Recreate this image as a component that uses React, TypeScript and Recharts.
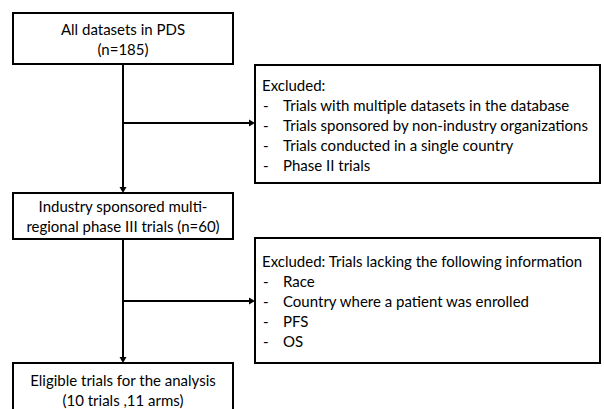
import React from 'react';
import { ComposedChart, XAxis, YAxis, ReferenceArea, ReferenceLine } from 'recharts';

const W = 604;
const H = 409;

// ---- text content ----
const box1Lines = ['All datasets in PDS', '(n=185)'];
const box2Title = 'Excluded:';
const box2Items = [
  'Trials with multiple datasets in the database',
  'Trials sponsored by non-industry organizations',
  'Trials conducted in a single country',
  'Phase II trials',
];
const box3Lines = ['Industry sponsored multi-', 'regional phase III trials (n=60)'];
const box4Title = 'Excluded: Trials lacking the following information';
const box4Items = ['Race', 'Country where a patient was enrolled', 'PFS', 'OS'];
const box5Lines = ['Eligible trials for the analysis', '(10 trials ,11 arms)'];

// ---- layout (diagram coordinates) ----
const MAIN_X = 123;
const BOX_L = { x1: 13, x2: 233 };
const BOX_R = { x1: 255, x2: 600 };
const B1 = { y1: 13, y2: 64, first: 16 };
const B2 = { y1: 65, y2: 183, first: 20 };
const B3 = { y1: 193, y2: 239, first: 13 };
const B4 = { y1: 238, y2: 363, first: 23 };
const B5 = { y1: 363, y2: 430, first: 17 };
const BRANCH1_Y = 123;
const BRANCH2_Y = 301;

const FONT = 'Lato, "Open Sans", sans-serif';
const FS = 15;
const LH = 20;
const INK = '#000';
const SW = 2;

function makeCenterBox(lines: string[], first: number) {
  return (p: any) => {
    const { x, y, width, height } = p;
    return (
      <g>
        <rect x={x} y={y} width={width} height={height} fill="#fff" stroke={INK} strokeWidth={SW} />
        {lines.map((t, i) => (
          <text
            key={i}
            x={x + width / 2}
            y={y + first + i * LH}
            textAnchor="middle"
            dominantBaseline="central"
            fontFamily={FONT}
            fontSize={FS}
            fill={INK}
          >
            {t}
          </text>
        ))}
      </g>
    );
  };
}

function makeListBox(title: string, items: string[], first: number) {
  return (p: any) => {
    const { x, y, width, height } = p;
    return (
      <g>
        <rect x={x} y={y} width={width} height={height} fill="#fff" stroke={INK} strokeWidth={SW} />
        <text x={x + 7} y={y + first} dominantBaseline="central" fontFamily={FONT} fontSize={FS} fill={INK}>
          {title}
        </text>
        {items.map((t, i) => (
          <g key={i}>
            <text x={x + 8} y={y + first + (i + 1) * LH} dominantBaseline="central" fontFamily={FONT} fontSize={FS} fill={INK}>
              -
            </text>
            <text x={x + 28} y={y + first + (i + 1) * LH} dominantBaseline="central" fontFamily={FONT} fontSize={FS} fill={INK}>
              {t}
            </text>
          </g>
        ))}
      </g>
    );
  };
}

const arrowShape = (p: any) => {
  const { x1, y1, x2, y2 } = p;
  const dx = x2 - x1;
  const dy = y2 - y1;
  const len = Math.sqrt(dx * dx + dy * dy) || 1;
  const ux = dx / len;
  const uy = dy / len;
  const hl = 6;
  const hw = 3.5;
  const bx = x2 - ux * hl;
  const by = y2 - uy * hl;
  const pts = `${x2},${y2} ${bx - uy * hw},${by + ux * hw} ${bx + uy * hw},${by - ux * hw}`;
  return (
    <g>
      <line x1={x1} y1={y1} x2={bx} y2={by} stroke={INK} strokeWidth={SW} />
      <polygon points={pts} fill={INK} />
    </g>
  );
};

export default function App() {
  return (
    <div style={{ position: 'fixed', left: 0, top: 0, width: W, height: H, background: '#fff' }}>
      <ComposedChart width={W} height={H} data={[]} margin={{ top: 0, right: 0, bottom: 0, left: 0 }}>
        <XAxis type="number" dataKey="x" domain={[0, W]} hide allowDataOverflow />
        <YAxis type="number" dataKey="y" domain={[0, H]} reversed hide allowDataOverflow />

        <ReferenceLine segment={[{ x: MAIN_X, y: B1.y2 }, { x: MAIN_X, y: B3.y1 }]} shape={arrowShape} ifOverflow="visible" />
        <ReferenceLine segment={[{ x: MAIN_X, y: BRANCH1_Y }, { x: BOX_R.x1, y: BRANCH1_Y }]} shape={arrowShape} ifOverflow="visible" />
        <ReferenceLine segment={[{ x: MAIN_X, y: B3.y2 }, { x: MAIN_X, y: B5.y1 }]} shape={arrowShape} ifOverflow="visible" />
        <ReferenceLine segment={[{ x: MAIN_X, y: BRANCH2_Y }, { x: BOX_R.x1, y: BRANCH2_Y }]} shape={arrowShape} ifOverflow="visible" />

        <ReferenceArea x1={BOX_L.x1} x2={BOX_L.x2} y1={B1.y1} y2={B1.y2} ifOverflow="visible" shape={makeCenterBox(box1Lines, B1.first)} />
        <ReferenceArea x1={BOX_R.x1} x2={BOX_R.x2} y1={B2.y1} y2={B2.y2} ifOverflow="visible" shape={makeListBox(box2Title, box2Items, B2.first)} />
        <ReferenceArea x1={BOX_L.x1} x2={BOX_L.x2} y1={B3.y1} y2={B3.y2} ifOverflow="visible" shape={makeCenterBox(box3Lines, B3.first)} />
        <ReferenceArea x1={BOX_R.x1} x2={BOX_R.x2} y1={B4.y1} y2={B4.y2} ifOverflow="visible" shape={makeListBox(box4Title, box4Items, B4.first)} />
        <ReferenceArea x1={BOX_L.x1} x2={BOX_L.x2} y1={B5.y1} y2={B5.y2} ifOverflow="visible" shape={makeCenterBox(box5Lines, B5.first)} />
      </ComposedChart>
    </div>
  );
}
